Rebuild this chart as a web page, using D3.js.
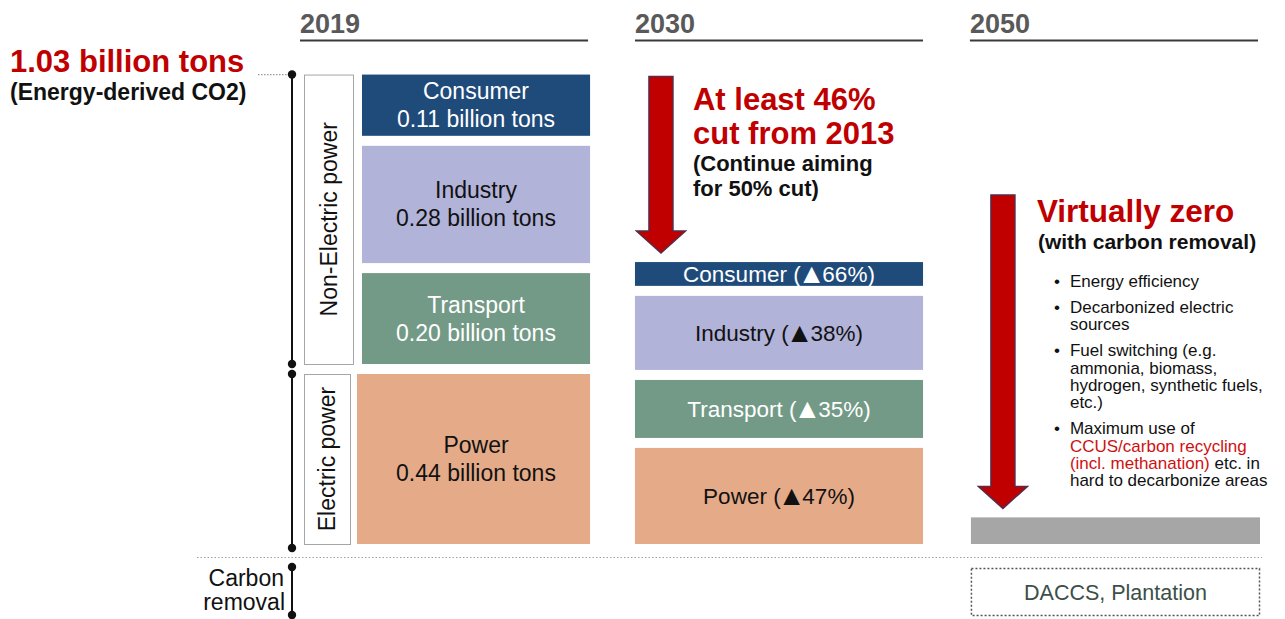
<!DOCTYPE html>
<html><head><meta charset="utf-8">
<script src="https://cdn.jsdelivr.net/npm/d3@7"></script>
<style>
html,body{margin:0;padding:0;background:#fff;}
svg{display:block;font-family:"Liberation Sans",Arial,Helvetica,sans-serif;}
</style></head><body>
<svg id="chart" width="1285" height="619"></svg>
<script>
// ---- data ----
const years = ["2019", "2030", "2050"];
const sectors = ["Consumer", "Industry", "Transport", "Power"];
const emissions2019 = [0.11, 0.28, 0.20, 0.44];   // billion tons of energy-derived CO2
const cuts2030 = [66, 38, 35, 47];                // % reduction target per sector
const total2019 = 1.03;                           // billion tons
const residual2050 = 0.045;                       // residual emissions offset by removal
const sectorColors = ["#1f4b7b", "#b1b3d9", "#739a87", "#e5ab89"];
const sectorText = ["#ffffff", "#111111", "#ffffff", "#111111"];
const groupLabels = ["Non-Electric power", "Electric power"];
const measures2050 = [
  [[{t: "Energy efficiency"}]],
  [[{t: "Decarbonized electric"}], [{t: "sources"}]],
  [[{t: "Fuel switching (e.g."}], [{t: "ammonia, biomass,"}], [{t: "hydrogen, synthetic fuels,"}], [{t: "etc.)"}]],
  [[{t: "Maximum use of"}], [{t: "CCUS/carbon recycling", red: true}],
   [{t: "(incl. methanation)", red: true}, {t: " etc. in"}], [{t: "hard to decarbonize areas"}]]
];

const emissions2030 = emissions2019.map((v, i) => v * (1 - cuts2030[i] / 100));

// ---- layout ----
const RED = "#c00000";
const svg = d3.select("#chart");
const x = d3.scaleBand().domain(years).range([300, 1258]).paddingInner(0.14);
const bw = x.bandwidth();
const baseY = 544, gap = 10;
const h2019 = d3.scaleLinear().domain([0, 0.44]).range([25, 170]);
const h2030 = d3.scaleLinear().domain([0, 0.233]).range([10, 96]);

// stack from the bottom: Power first, Consumer on top
function stack(values, hs) {
  const out = new Array(values.length);
  let y = baseY;
  for (let i = values.length - 1; i >= 0; i--) {
    const h = hs(values[i]);
    out[i] = {i, y0: y - h, y1: y, v: values[i]};
    y = y - h - gap;
  }
  return out;
}
const s2019 = stack(emissions2019, h2019);
const s2030 = stack(emissions2030, h2030);

// ---- year headers ----
const hdr = svg.append("g");
hdr.selectAll("text").data(years).join("text")
  .attr("x", d => x(d)).attr("y", 33)
  .attr("font-size", 27).attr("font-weight", "bold").attr("fill", "#595959")
  .text(d => d);
hdr.selectAll("line").data(years).join("line")
  .attr("x1", d => x(d)).attr("x2", d => x(d) + bw)
  .attr("y1", 40.5).attr("y2", 40.5)
  .attr("stroke", "#3a3a3a").attr("stroke-width", 2);

// ---- total label ----
const topY = s2019[0].y0;
svg.append("text").attr("x", 10).attr("y", 72)
  .attr("font-size", 31).attr("font-weight", "bold").attr("fill", RED)
  .text(`${total2019.toFixed(2)} billion tons`);
svg.append("text").attr("x", 10).attr("y", 100)
  .attr("font-size", 23).attr("font-weight", "bold").attr("fill", "#111")
  .text("(Energy-derived CO2)");
svg.append("line").attr("x1", 258).attr("x2", 289).attr("y1", topY).attr("y2", topY)
  .attr("stroke", "#999").attr("stroke-width", 1.2).attr("stroke-dasharray", "1.5,1.5");

// ---- brackets ----
const bx = 292;
const brackets = [
  [s2019[0].y0, s2019[2].y1],
  [s2019[3].y0, baseY + 4],
  [567, 615]
];
const br = svg.append("g");
br.selectAll("line").data(brackets).join("line")
  .attr("x1", bx).attr("x2", bx).attr("y1", d => d[0]).attr("y2", d => d[1])
  .attr("stroke", "#111").attr("stroke-width", 2);
br.selectAll("circle").data(brackets.flat()).join("circle")
  .attr("cx", bx).attr("cy", d => d).attr("r", 4.2).attr("fill", "#111");

// group boxes with rotated labels
const groups = [
  {label: groupLabels[0], y0: s2019[0].y0, y1: s2019[2].y1, x0: 304, x1: 353},
  {label: groupLabels[1], y0: s2019[3].y0, y1: baseY, x0: 304, x1: 350}
];
const gb = svg.append("g");
gb.selectAll("rect").data(groups).join("rect")
  .attr("x", d => d.x0 + 0.5).attr("y", d => d.y0 + 0.5)
  .attr("width", d => d.x1 - d.x0).attr("height", d => d.y1 - d.y0)
  .attr("fill", "#fff").attr("stroke", "#a6a6a6").attr("stroke-width", 1);
gb.selectAll("text").data(groups).join("text")
  .attr("transform", d => `translate(${(d.x0 + d.x1) / 2 + 8},${(d.y0 + d.y1) / 2}) rotate(-90)`)
  .attr("text-anchor", "middle").attr("font-size", 23).attr("fill", "#111")
  .text(d => d.label);

// ---- 2019 bars ----
const x19 = x("2019");
const g19 = svg.append("g");
g19.selectAll("rect").data(s2019).join("rect")
  .attr("x", d => d.i === 3 ? x19 + 57 : x19 + 62)
  .attr("width", d => d.i === 3 ? bw - 55 : bw - 60)
  .attr("y", d => d.y0).attr("height", d => d.y1 - d.y0)
  .attr("fill", d => sectorColors[d.i]);
const t19 = g19.selectAll("text").data(s2019).join("text")
  .attr("text-anchor", "middle").attr("font-size", 23)
  .attr("fill", d => sectorText[d.i]);
t19.append("tspan").attr("x", x19 + 176).attr("y", d => (d.y0 + d.y1) / 2 - 6)
  .text(d => sectors[d.i]);
t19.append("tspan").attr("x", x19 + 176).attr("y", d => (d.y0 + d.y1) / 2 + 22)
  .text(d => `${d.v.toFixed(2)} billion tons`);

// ---- 2030 bars ----
const x30 = x("2030");
const g30 = svg.append("g");
g30.selectAll("rect").data(s2030).join("rect")
  .attr("x", x30).attr("width", bw)
  .attr("y", d => d.y0).attr("height", d => d.y1 - d.y0)
  .attr("fill", d => sectorColors[d.i]);
const t30b = g30.selectAll("text").data(s2030).join("text")
  .attr("x", x30 + bw / 2).attr("y", d => (d.y0 + d.y1) / 2 + 8)
  .attr("text-anchor", "middle").attr("font-size", 22.5)
  .attr("fill", d => sectorText[d.i]);
t30b.append("tspan").text(d => `${sectors[d.i]} (`);
t30b.append("tspan").attr("font-size", 28).attr("dy", 1).attr("dx", -3).text("\u25B2");
t30b.append("tspan").attr("dy", -1).attr("dx", -3).text(d => `${cuts2030[d.i]}%)`);

// ---- arrows ----
function arrowPath(cx, top, tip) {
  const sh = 12, hh = 24.5, hl = 22;
  return `M${cx - sh},${top}H${cx + sh}V${tip - hl}H${cx + hh}L${cx},${tip}L${cx - hh},${tip - hl}H${cx - sh}Z`;
}
const arrows = [
  {cx: x30 + 26, top: topY + 2, tip: s2030[0].y0 - 9},
  {cx: x("2050") + 33, top: 195, tip: baseY - (h2030(residual2050)) - 9}
];
svg.append("g").selectAll("path").data(arrows).join("path")
  .attr("d", d => arrowPath(d.cx, d.top, d.tip))
  .attr("fill", RED).attr("stroke", "#5a2a48").attr("stroke-width", 1.5);

// ---- 2030 target text ----
const tx30 = x30 + 58;
const t30 = [
  {t: "At least 46%", y: 110, size: 31, c: RED},
  {t: "cut from 2013", y: 144, size: 31, c: RED},
  {t: "(Continue aiming", y: 171, size: 22, c: "#111"},
  {t: "for 50% cut)", y: 196, size: 22, c: "#111"}
];
svg.append("g").selectAll("text").data(t30).join("text")
  .attr("x", tx30).attr("y", d => d.y).attr("font-size", d => d.size)
  .attr("font-weight", "bold").attr("fill", d => d.c).text(d => d.t);

// ---- 2050 ----
const x50 = x("2050");
svg.append("text").attr("x", x50 + 67).attr("y", 222)
  .attr("font-size", 31.5).attr("font-weight", "bold").attr("fill", RED).text("Virtually zero");
svg.append("text").attr("x", x50 + 68).attr("y", 249)
  .attr("font-size", 21).attr("font-weight", "bold").attr("fill", "#111").text("(with carbon removal)");

const bul = svg.append("g").attr("font-size", 17).attr("fill", "#111");
let by = 287;
measures2050.forEach(item => {
  bul.append("text").attr("x", x50 + 84).attr("y", by).text("\u2022");
  item.forEach((line, li) => {
    const t = bul.append("text").attr("x", x50 + 100).attr("y", by + li * 17.3);
    line.forEach(seg => t.append("tspan").attr("fill", seg.red ? "#d01010" : "#111").text(seg.t));
  });
  by += (item.length - 1) * 17.3 + 26;
});

// residual bar
const rh = h2030(residual2050);
svg.append("rect").attr("x", x50 + 1).attr("width", bw + 1)
  .attr("y", baseY - rh).attr("height", rh).attr("fill", "#a6a6a6");

// separator between emissions and removals
svg.append("line").attr("x1", 197).attr("x2", 1262).attr("y1", 557.5).attr("y2", 557.5)
  .attr("stroke", "#a0a0a0").attr("stroke-width", 1.2).attr("stroke-dasharray", "1.5,2");

// carbon removal
const cr = svg.append("text").attr("text-anchor", "end").attr("font-size", 23).attr("fill", "#111");
cr.append("tspan").attr("x", 284).attr("y", 586).text("Carbon");
cr.append("tspan").attr("x", 285).attr("y", 610).text("removal");

svg.append("rect").attr("x", x50 + 1.5).attr("y", 568.5).attr("width", bw).attr("height", 47)
  .attr("fill", "none").attr("stroke", "#555").attr("stroke-width", 1.5).attr("stroke-dasharray", "2,2");
svg.append("text").attr("x", x50 + 1.5 + bw / 2).attr("y", 600)
  .attr("text-anchor", "middle").attr("font-size", 21.5).attr("fill", "#3c4f48")
  .text("DACCS, Plantation");
</script>
</body></html>
